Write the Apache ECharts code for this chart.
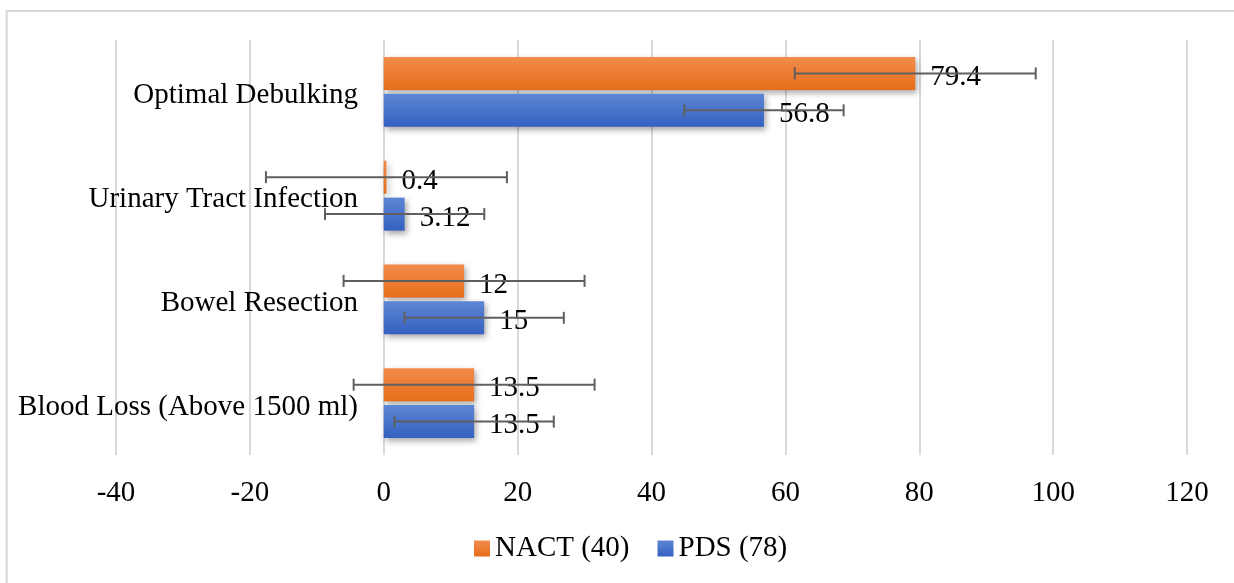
<!DOCTYPE html>
<html>
<head>
<meta charset="utf-8">
<script src="https://cdn.jsdelivr.net/npm/echarts@6/dist/echarts.min.js"></script>
<style>
html,body{margin:0;padding:0;background:#fff;}
#chart{width:1234px;height:583px;}
</style>
</head>
<body>
<div id="chart"></div>
<script>
const categories = ['Blood Loss (Above 1500 ml)', 'Bowel Resection', 'Urinary Tract Infection', 'Optimal Debulking'];
const seriesNames = ['NACT (40)', 'PDS (78)'];
const nactValues = [13.5, 12, 0.4, 79.4];
const pdsValues = [13.5, 15, 3.12, 56.8];
const nactErrors = [18, 18, 18, 18];
const pdsErrors = [11.9, 11.9, 11.9, 11.9];
const xTicks = { min: -40, max: 120, interval: 20 };

const FONT = '"Liberation Serif", "Times New Roman", serif';
const BAR_W = 33;
const BAR_GAP = 0.12;
const HALF_OFF = (BAR_W + BAR_W * BAR_GAP) / 2;

const chart = echarts.init(document.getElementById('chart'), null, { renderer: 'canvas' });

function grad(top, bottom) {
  return new echarts.graphic.LinearGradient(0, 0, 0, 1, [
    { offset: 0, color: top }, { offset: 1, color: bottom }
  ]);
}

function errSeries(name, vals, errs, sign) {
  return {
    type: 'custom',
    name: name,
    z: 5,
    silent: true,
    encode: { x: 1, y: 0 },
    data: categories.map((c, i) => [i, vals[i], errs[i]]),
    renderItem: function (params, api) {
      const cat = api.value(0);
      const v = api.value(1);
      const e = api.value(2);
      const c = api.coord([v, cat]);
      const y = c[1] + sign * HALF_OFF;
      const lo = api.coord([v - e, cat])[0];
      const hi = api.coord([v + e, cat])[0];
      const st = { stroke: '#5f5f5f', lineWidth: 2 };
      return {
        type: 'group',
        children: [
          { type: 'line', shape: { x1: lo, y1: y, x2: hi, y2: y }, style: st },
          { type: 'line', shape: { x1: lo, y1: y - 6, x2: lo, y2: y + 6 }, style: st },
          { type: 'line', shape: { x1: hi, y1: y - 6, x2: hi, y2: y + 6 }, style: st }
        ]
      };
    }
  };
}

const labelStyle = {
  show: true,
  position: 'right',
  distance: 15,
  offset: [0, 4],
  color: '#000',
  fontSize: 29,
  fontFamily: FONT
};

const option = {
  backgroundColor: '#fff',
  animation: false,
  graphic: [{
    type: 'rect',
    shape: { x: 6.7, y: 11, width: 1400, height: 800 },
    style: { fill: 'none', stroke: '#d9d9d9', lineWidth: 2 },
    silent: true,
    z: -10
  }],
  grid: { left: 116, right: 47, top: 40, bottom: 128, containLabel: false, outerBoundsMode: 'none' },
  legend: {
    data: seriesNames,
    left: 469,
    top: 529,
    icon: 'rect',
    itemWidth: 16,
    itemHeight: 16,
    itemGap: 28,
    textStyle: { fontSize: 29, fontFamily: FONT, color: '#000' }
  },
  xAxis: {
    type: 'value',
    min: xTicks.min,
    max: xTicks.max,
    interval: xTicks.interval,
    axisLine: { show: false },
    axisTick: { show: false },
    splitLine: { show: true, lineStyle: { color: '#d9d9d9', width: 2 } },
    axisLabel: { fontSize: 29, fontFamily: FONT, color: '#000', margin: 24 }
  },
  yAxis: {
    type: 'category',
    data: categories,
    axisLine: { show: false },
    axisTick: { show: false },
    splitLine: { show: false },
    axisLabel: {
      margin: -242,
      formatter: '{c|{value}}',
      rich: { c: { fontSize: 29, fontFamily: FONT, color: '#000', padding: [8, 0, 0, 0] } }
    }
  },
  series: [
    {
      name: seriesNames[0],
      type: 'bar',
      data: nactValues,
      barWidth: BAR_W,
      barGap: (BAR_GAP * 100) + '%',
      itemStyle: {
        color: grad('#f28c4c', '#e76d1a'),
        shadowBlur: 6, shadowOffsetX: 2, shadowOffsetY: 3, shadowColor: 'rgba(0,0,0,0.35)'
      },
      label: labelStyle,
      z: 2
    },
    {
      name: seriesNames[1],
      type: 'bar',
      data: pdsValues,
      barWidth: BAR_W,
      barGap: (BAR_GAP * 100) + '%',
      itemStyle: {
        color: grad('#5d86d4', '#3461c1'),
        shadowBlur: 6, shadowOffsetX: 2, shadowOffsetY: 3, shadowColor: 'rgba(0,0,0,0.35)'
      },
      label: labelStyle,
      z: 2
    },
    errSeries('nactErr', nactValues, nactErrors, -1),
    errSeries('pdsErr', pdsValues, pdsErrors, 1)
  ]
};

chart.setOption(option);
</script>
</body>
</html>
